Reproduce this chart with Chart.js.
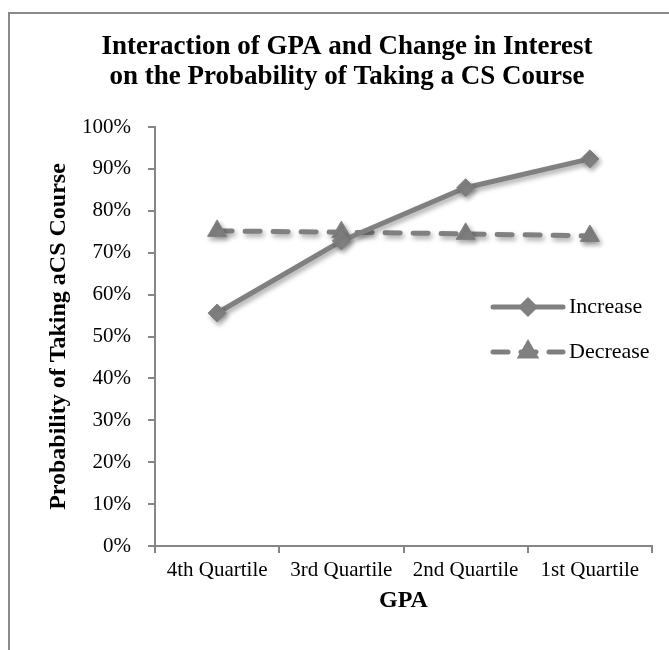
<!DOCTYPE html>
<html>
<head>
<meta charset="utf-8">
<title>GPA and Change in Interest</title>
<script src="https://cdn.jsdelivr.net/npm/chart.js@4.4.1/dist/chart.umd.min.js"></script>
<style>
  html, body { margin: 0; padding: 0; background: #fff; overflow: hidden; }
  #wrap { position: relative; width: 669px; height: 650px; }
  #frame {
    position: absolute; left: 8px; top: 12px; width: 720px; height: 720px;
    border-left: 2px solid #8a8a8a; border-top: 2px solid #8a8a8a;
  }
  #myChart { position: absolute; left: 0; top: 0; }
</style>
</head>
<body>
<div id="wrap">
  <div id="frame"></div>
  <canvas id="myChart" width="669" height="650"></canvas>
</div>
<script>
// Data (percent)
const quartiles = ["4th Quartile", "3rd Quartile", "2nd Quartile", "1st Quartile"];
const increaseValues = [55.6, 72.8, 85.5, 92.4];
const decreaseValues = [75.2, 74.9, 74.5, 74.0];
const yTicks = [0, 10, 20, 30, 40, 50, 60, 70, 80, 90, 100];

const gray = "#808080";
const axisGray = "#868686";
const serif = "'Liberation Serif', 'Times New Roman', serif";

// Soft drop shadow under the lines and markers
const shadowPlugin = {
    id: "shadow",
    beforeDatasetsDraw(chart) {
        const ctx = chart.ctx;
        ctx.save();
        ctx.shadowColor = "rgba(0, 0, 0, 0.35)";
        ctx.shadowBlur = 5;
        ctx.shadowOffsetX = 2;
        ctx.shadowOffsetY = 3;
    },
    afterDatasetsDraw(chart) {
        chart.ctx.restore();
    }
};

// Legend drawn inside the plot, at the right, with line + marker samples
const sideLegend = {
    id: "sideLegend",
    afterDraw(chart) {
        const { ctx, chartArea } = chart;
        const x0 = chartArea.right - 159;
        const len = 70;
        chart.data.datasets.forEach((ds, i) => {
            const y = chartArea.top + 180 + i * 45;
            ctx.save();
            ctx.strokeStyle = ds.borderColor;
            ctx.fillStyle = ds.borderColor;
            ctx.lineWidth = ds.borderWidth;
            ctx.lineCap = "round";
            ctx.setLineDash(ds.borderDash || []);
            ctx.beginPath();
            ctx.moveTo(x0, y);
            ctx.lineTo(x0 + len, y);
            ctx.stroke();
            ctx.setLineDash([]);
            Chart.helpers.drawPoint(ctx, {
                pointStyle: ds.pointStyle,
                radius: ds.pointStyle === "triangle" ? 8 : 6.5,
                rotation: 0,
                borderWidth: 1
            }, x0 + len / 2, y);
            ctx.fillStyle = "#000";
            ctx.font = "22px " + serif;
            ctx.textAlign = "left";
            ctx.textBaseline = "middle";
            ctx.fillText(ds.label, x0 + len + 6, y);
            ctx.restore();
        });
    }
};

const myChart = new Chart(document.getElementById("myChart").getContext("2d"), {
    type: "line",
    data: {
        labels: quartiles,
        datasets: [{
            label: "Increase",
            data: increaseValues,
            borderColor: gray,
            backgroundColor: gray,
            borderWidth: 5,
            tension: 0,
            pointStyle: "rectRot",
            pointRadius: 9,
            pointBorderWidth: 1,
            pointBackgroundColor: gray,
            pointBorderColor: gray
        }, {
            label: "Decrease",
            data: decreaseValues,
            borderColor: gray,
            backgroundColor: gray,
            borderWidth: 5,
            borderDash: [15, 13],
            borderCapStyle: "round",
            tension: 0,
            pointStyle: "triangle",
            pointRadius: 11,
            pointBorderWidth: 1,
            pointBackgroundColor: gray,
            pointBorderColor: gray
        }]
    },
    options: {
        responsive: false,
        animation: false,
        devicePixelRatio: 1,
        layout: {
            padding: { left: 42, right: 17, top: 0, bottom: 35 }
        },
        plugins: {
            legend: { display: false },
            tooltip: { enabled: false },
            title: {
                display: true,
                text: ["Interaction of GPA and Change in Interest",
                       "on the Probability of Taking a CS Course"],
                color: "#000",
                font: { family: serif, size: 27, weight: "bold", lineHeight: 30 / 27 },
                padding: { top: 32, bottom: 35 }
            }
        },
        scales: {
            x: {
                offset: true,
                grid: {
                    offset: true,
                    drawOnChartArea: false,
                    tickLength: 7,
                    color: axisGray,
                    lineWidth: 2
                },
                border: { color: axisGray, width: 2 },
                ticks: {
                    color: "#000",
                    font: { family: serif, size: 21 },
                    padding: 5,
                    maxRotation: 0,
                    autoSkip: false
                },
                title: {
                    display: true,
                    text: "GPA",
                    color: "#000",
                    font: { family: serif, size: 24, weight: "bold" },
                    padding: { top: -2, bottom: 0 }
                }
            },
            y: {
                min: yTicks[0],
                max: yTicks[yTicks.length - 1],
                afterBuildTicks: scale => {
                    scale.ticks = yTicks.map(v => ({ value: v }));
                },
                afterFit: scale => {
                    scale.width = 113;
                },
                grid: {
                    drawOnChartArea: false,
                    tickLength: 7,
                    color: axisGray,
                    lineWidth: 2
                },
                border: { color: axisGray, width: 2 },
                ticks: {
                    color: "#000",
                    font: { family: serif, size: 21 },
                    padding: 17,
                    callback: v => v + "%"
                },
                title: {
                    display: true,
                    text: "Probability of Taking aCS Course",
                    color: "#000",
                    font: { family: serif, size: 24, weight: "bold" },
                    padding: { top: 2, bottom: 0 }
                }
            }
        }
    },
    plugins: [shadowPlugin, sideLegend]
});
</script>
</body>
</html>
